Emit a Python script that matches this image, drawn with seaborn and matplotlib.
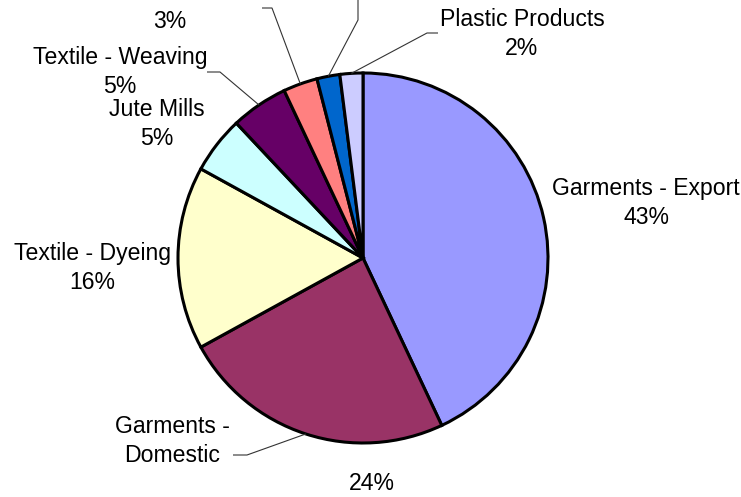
import numpy as np
import matplotlib
matplotlib.use("Agg")
import matplotlib.pyplot as plt
import seaborn as sns

# ---- data ----
categories = ["Garments - Export", "Garments - Domestic", "Textile - Dyeing", "Jute Mills",
              "Textile - Weaving", "", "", "Plastic Products"]
values = [43, 24, 16, 5, 5, 3, 2, 2]
pct_labels = ["43%", "24%", "16%", "5%", "5%", "3%", "", "2%"]
colors = ["#9999FF", "#993366", "#FFFFCC", "#CCFFFF", "#660066", "#FF8080", "#0066CC", "#CCCCFF"]

sns.set_theme(style="white")
plt.rcParams["font.family"] = ["Liberation Sans", "DejaVu Sans"]

W, H = 741, 497
fig = plt.figure(figsize=(W / 100, H / 100), dpi=100)
ax = fig.add_axes([0, 0, 1, 1])

def P(x, y):
    """pixel (top-left origin) -> data coords"""
    return x, H - y

cx, cy = P(363, 258)
R = 185
palette = sns.color_palette(colors)
ax.pie(values, colors=palette, startangle=90, counterclock=False,
       center=(cx, cy), radius=R,
       wedgeprops=dict(edgecolor="black", linewidth=2.2))
ax.set_xlim(0, W)
ax.set_ylim(0, H)
ax.set_aspect("equal")
ax.axis("off")

# mid-angle of each wedge (degrees)
tot = float(sum(values))
cum = np.cumsum([0] + values)
mids = [90 - 360 * (cum[i] + values[i] / 2) / tot for i in range(len(values))]

def edge(i):
    a = np.deg2rad(mids[i])
    return cx + R * np.cos(a), cy + R * np.sin(a)

fs = 16.6
def label(x, y, s):
    X, Y = P(x, y)
    ax.text(X, Y, s, ha="center", va="center", fontsize=fs, color="black",
            linespacing=1.3)

label(646, 203, f"{categories[0]}\n{pct_labels[0]}")
label(172, 441, "Garments -\nDomestic")
label(372, 483, pct_labels[1])
label(92, 268, f"{categories[2]}\n{pct_labels[2]}")
label(157, 124, f"{categories[3]}\n{pct_labels[3]}")
label(120, 72, f"{categories[4]}\n{pct_labels[4]}")
label(170, 21, pct_labels[5])
label(522, 34, f"{categories[7]}\n{pct_labels[7]}")

# leader lines
def leader(i, pts):
    ex, ey = edge(i)
    xs = [ex] + [P(*p)[0] for p in pts]
    ys = [ey] + [P(*p)[1] for p in pts]
    ax.plot(xs, ys, color="#333333", linewidth=0.8, solid_capstyle="butt")

leader(7, [(427, 33), (438, 33)])
leader(6, [(358, 20), (358, -5)])
leader(5, [(272, 8), (262, 8)])
leader(4, [(220, 72), (207, 72)])
leader(1, [(247, 455), (233, 455)])

fig.savefig("out.png", dpi=100, facecolor="white")
